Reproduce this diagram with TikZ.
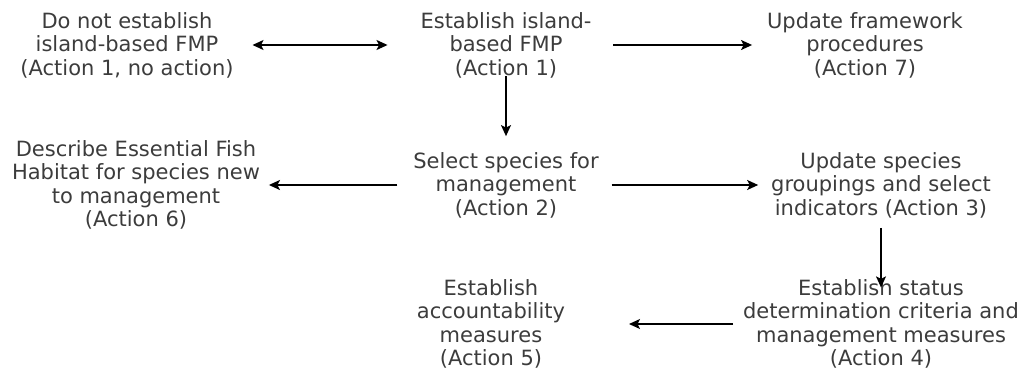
\documentclass[tikz,border=0pt]{standalone}
\usepackage{fontspec}
\setmainfont{DejaVu Sans}
\usepackage{tikz}
\usetikzlibrary{arrows.meta, positioning}
\definecolor{LabelGrau}{RGB}{60,60,60}

\begin{document}
\begin{tikzpicture}[x=1pt, y=-1pt,
    >={Stealth[length=11pt, width=10pt, inset=2.5pt]},
    action/.style={align=center, inner sep=0pt, outer sep=0pt, text=LabelGrau, font=\fontsize{21}{23.5}\selectfont},
    link/.style={line width=1.4pt, black}]
    \useasboundingbox (0,0) rectangle (1023,380);
    \node[action] (A) at (127, 45) {Do not establish\\island-based FMP\\(Action 1, no action)};
    \node[action] (B) at (506, 45) {Establish island-\\based FMP\\(Action 1)};
    \node[action] (C) at (865, 45) {Update framework\\procedures\\(Action 7)};
    \node[action] (D) at (136, 185) {Describe Essential Fish\\Habitat for species new\\to management\\(Action 6)};
    \node[action] (E) at (506, 185) {Select species for\\management\\(Action 2)};
    \node[action] (F) at (881, 185) {Update species\\groupings and select\\indicators (Action 3)};
    \node[action] (G) at (491, 324) {Establish\\accountability\\measures\\(Action 5)};
    \node[action] (H) at (881, 324) {Establish status\\determination criteria and\\management measures\\(Action 4)};
    \path[link, <->] (A) edge[shorten <=19pt, shorten >=33pt] (B);
    \path[link, ->]  (B) edge[shorten <=22pt, shorten >=15pt] (C);
    \path[link, ->]  (B) edge[shorten <=-2pt, shorten >=16pt] (E);
    \path[link, ->]  (E) edge[shorten <=16pt, shorten >=9pt]  (D);
    \path[link, ->]  (E) edge[shorten <=13pt, shorten >=13pt] (F);
    \path[link, ->]  (F) edge[shorten <=10pt, shorten >=-8pt] (H);
    \path[link, ->]  (H) edge[shorten <=10pt, shorten >=64pt] (G);
\end{tikzpicture}
\end{document}
